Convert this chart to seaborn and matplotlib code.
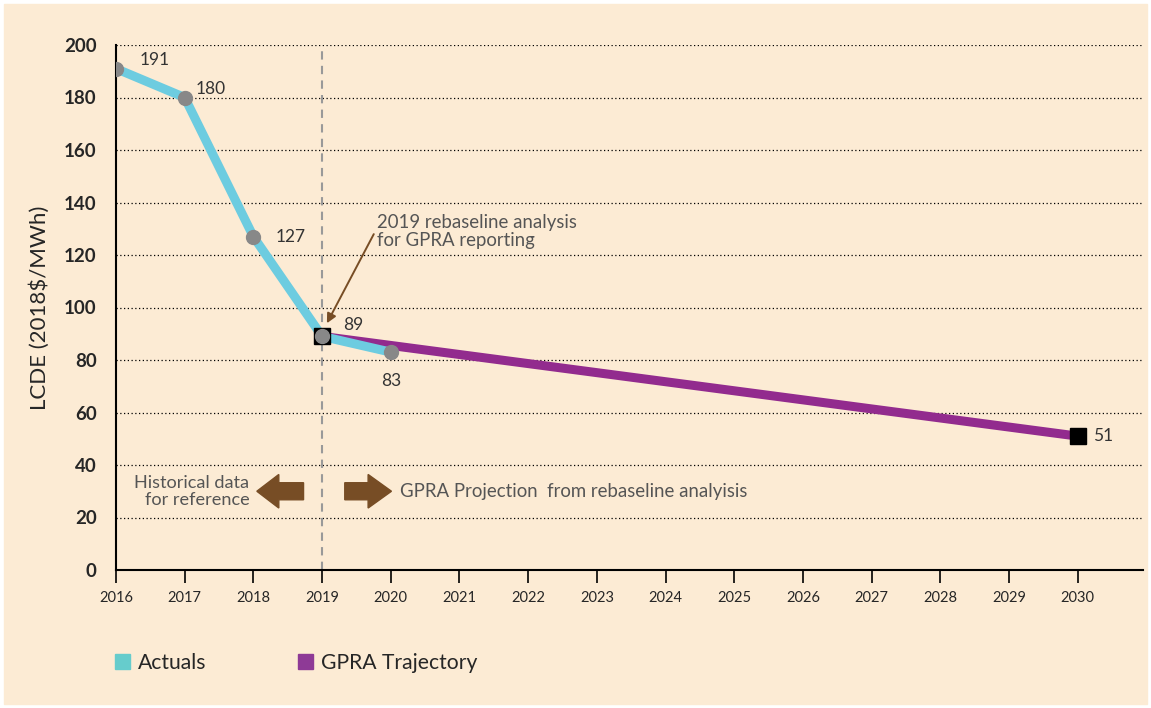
import matplotlib
matplotlib.use("Agg")
import matplotlib.pyplot as plt
import matplotlib.patches as mpatches
import pandas as pd
import seaborn as sns

# data
actual_years = [2016, 2017, 2018, 2019, 2020]
actual_values = [191, 180, 127, 89, 83]
gpra_years = [2019, 2030]
gpra_values = [89, 51]
year_ticks = list(range(2016, 2031))
y_ticks = list(range(0, 201, 20))

bg = "#FCEBD4"
cyan = "#6DCCE0"
purple = "#922B8E"
brown = "#774D25"

sns.set_style("white")
plt.rcParams["font.family"] = ["Lato", "DejaVu Sans"]

fig = plt.figure(figsize=(11.51, 7.08), dpi=100, facecolor="white")
fig.patches.append(mpatches.Rectangle((4 / 1151, 4 / 708), 1143 / 1151, 700 / 708,
                                      transform=fig.transFigure, color=bg, zorder=-10))
ax = fig.add_axes([116 / 1151, 1 - 570 / 708, 1027 / 1151, 525 / 708])
ax.set_facecolor(bg)

actuals = pd.DataFrame({"year": actual_years, "value": actual_values})
gpra = pd.DataFrame({"year": gpra_years, "value": gpra_values})

sns.lineplot(data=gpra, x="year", y="value", color=purple, linewidth=6.5, ax=ax, zorder=3)
sns.lineplot(data=actuals, x="year", y="value", color=cyan, linewidth=6.5, ax=ax, zorder=4)
ax.plot(gpra["year"], gpra["value"], "s", color="black", markersize=12, zorder=5, linestyle="none")
ax.plot(actuals["year"], actuals["value"], "o", color="#888888", markersize=10, zorder=6, linestyle="none")

# vertical dashed rebaseline line
ax.axvline(2019, color="#999999", linestyle=(0, (4, 3)), linewidth=1.5, zorder=2)

# value labels
label_offsets = {2016: (17, 6), 2017: (8, 6), 2018: (16, 0), 2019: (15, 8), 2020: (0, -21)}
for yr, v in zip(actual_years, actual_values):
    dx, dy = label_offsets[yr]
    ha = "center" if yr == 2020 else "left"
    ax.annotate(str(v), (yr, v), xytext=(dx, dy), textcoords="offset points",
                ha=ha, va="center", fontsize=12.5, color="#333333", zorder=7)
ax.annotate("51", (2030, 51), xytext=(11, 0), textcoords="offset points",
            ha="left", va="center", fontsize=12.5, color="#333333")

# rebaseline note with arrow
ax.annotate("2019 rebaseline analysis\nfor GPRA reporting", xy=(2019.07, 94),
            xytext=(2019.8, 129), ha="left", va="center", fontsize=13.4,
            color="#555555", linespacing=1.05,
            arrowprops=dict(arrowstyle="-|>", color=brown, lw=1.4,
                            shrinkA=0, shrinkB=0, mutation_scale=14,
                            relpos=(0.0, 0.6)))

# fat arrows
ax.add_patch(mpatches.FancyArrow(2018.73, 30, -0.68, 0, width=6.5, head_width=12.8,
                                 head_length=0.32, length_includes_head=True,
                                 color=brown, zorder=5))
ax.add_patch(mpatches.FancyArrow(2019.33, 30, 0.68, 0, width=6.5, head_width=12.8,
                                 head_length=0.34, length_includes_head=True,
                                 color=brown, zorder=5))
ax.text(2017.94, 30, "Historical data\nfor reference", ha="right", va="center",
        fontsize=13.1, color="#555555", linespacing=1.05)
ax.text(2020.13, 30, "GPRA Projection  from rebaseline analyisis", ha="left", va="center",
        fontsize=13.4, color="#555555")

ax.set_xlim(2016, 2030.95)
ax.set_ylim(0, 200)
ax.set_xticks(year_ticks)
ax.set_yticks(y_ticks)
ax.tick_params(axis="x", direction="out", length=9, width=1.2, color="black",
               labelsize=10.5, pad=6, bottom=True)
ax.tick_params(axis="y", length=0, labelsize=13.5, pad=14)
for lbl in ax.get_yticklabels():
    lbl.set_fontweight("bold")
ax.yaxis.grid(True, color="black", linestyle=(0, (1, 2)), linewidth=0.9)
ax.xaxis.grid(False)
ax.set_axisbelow(True)
for s in ["top", "right"]:
    ax.spines[s].set_visible(False)
for s in ["left", "bottom"]:
    ax.spines[s].set_color("black")
    ax.spines[s].set_linewidth(1.5)
ax.set_xlabel("")
ax.set_ylabel("LCDE (2018$/MWh)", fontsize=16, labelpad=10)

handles = [mpatches.Patch(color="#66CCCC", label="Actuals"),
           mpatches.Patch(color="#8E3A96", label="GPRA Trajectory")]
fig.legend(handles=handles, loc="center left", bbox_to_anchor=(96 / 1151, 1 - 663 / 708),
           ncol=2, frameon=False, fontsize=15.2, handlelength=0.72, handleheight=0.72,
           handletextpad=0.35, columnspacing=4.35)

fig.savefig("out.png", dpi=100, facecolor="white")
